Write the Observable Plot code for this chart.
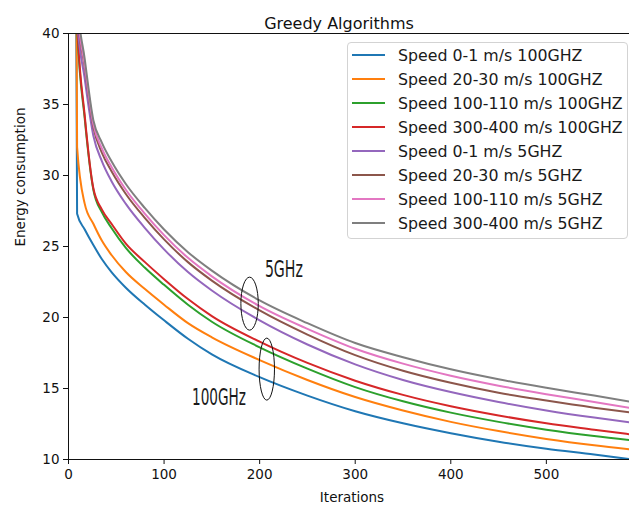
<!DOCTYPE html>
<html><head><meta charset="utf-8">
<script src="https://cdn.jsdelivr.net/npm/d3@7"></script>
<script src="https://cdn.jsdelivr.net/npm/@observablehq/plot@0.6"></script>
<style>
body{margin:0;background:#fff;}
#wrap{position:relative;width:629px;height:510px;font-family:"DejaVu Sans",sans-serif;}
#legend{position:absolute;left:347px;top:42px;width:281px;height:197px;border:1px solid #d3d3d3;border-radius:4px;background:rgba(255,255,255,0.8);box-sizing:border-box;}
.row{height:24px;display:flex;align-items:center;}
.sw{width:33px;height:2px;margin-left:4px;margin-right:13px;flex:none;}
.lab{font-size:15.8px;color:#1a1a1a;white-space:nowrap;font-family:"DejaVu Sans",sans-serif;}
</style></head>
<body><div id="wrap"></div>
<script>
const iterations = [1, 9, 17, 26, 35, 45, 60, 80, 100, 125, 150, 200, 250, 300, 350, 400, 450, 500, 550, 590];
const blue100   = [150, 27.3, 26.2, 25.1, 24.1, 23.2, 22.1, 20.9, 19.8, 18.5, 17.4, 15.8, 14.5, 13.4, 12.55, 11.85, 11.25, 10.75, 10.35, 10.0];
const orange100 = [150, 32.0, 28.0, 26.6, 25.4, 24.4, 23.2, 22.0, 20.9, 19.6, 18.6, 17.0, 15.6, 14.4, 13.45, 12.65, 12.0, 11.45, 11.0, 10.7];
const green100  = [150, 40.6, 34.0, 29.0, 27.4, 26.3, 24.9, 23.5, 22.3, 20.9, 19.7, 17.9, 16.4, 15.1, 14.1, 13.3, 12.65, 12.1, 11.65, 11.35];
const red100    = [150, 41.0, 34.2, 29.1, 27.6, 26.6, 25.2, 23.9, 22.7, 21.3, 20.1, 18.3, 16.8, 15.55, 14.55, 13.75, 13.1, 12.55, 12.1, 11.75];
const purple5   = [150, 41.0, 36.8, 32.8, 31.0, 29.6, 28.0, 26.3, 24.8, 23.2, 21.9, 19.8, 18.1, 16.7, 15.6, 14.75, 14.05, 13.45, 12.95, 12.6];
const brown5    = [150, 41.8, 37.6, 33.4, 31.6, 30.3, 28.7, 27.0, 25.5, 23.9, 22.6, 20.5, 18.8, 17.35, 16.25, 15.4, 14.7, 14.15, 13.65, 13.3];
const pink5     = [150, 42.0, 37.8, 33.6, 31.9, 30.6, 29.0, 27.3, 25.8, 24.2, 22.9, 20.8, 19.2, 17.8, 16.75, 15.9, 15.2, 14.6, 14.05, 13.6];
const gray5     = [150, 42.5, 38.2, 33.9, 32.3, 31.0, 29.4, 27.7, 26.2, 24.6, 23.3, 21.2, 19.6, 18.2, 17.2, 16.35, 15.65, 15.05, 14.5, 14.05];

const seriesNames = [
  "Speed 0-1 m/s 100GHZ", "Speed 20-30 m/s 100GHZ", "Speed 100-110 m/s 100GHZ", "Speed 300-400 m/s 100GHZ",
  "Speed 0-1 m/s 5GHZ", "Speed 20-30 m/s 5GHZ", "Speed 100-110 m/s 5GHZ", "Speed 300-400 m/s 5GHZ"
];
const seriesValues = [blue100, orange100, green100, red100, purple5, brown5, pink5, gray5];
const seriesColors = ["#1f77b4", "#ff7f0e", "#2ca02c", "#d62728", "#9467bd", "#8c564b", "#e377c2", "#7f7f7f"];

const xTicks = [0, 100, 200, 300, 400, 500];
const yTicks = [10, 15, 20, 25, 30, 35, 40];

const titleText = "Greedy Algorithms";
const xLabel = "Iterations";
const yLabel = "Energy consumption";

// annotation ellipses (centre in data units) and labels
const rings = [
  {x: 190, y: 20.94, rx: 8.7, ry: 26.5},
  {x: 208, y: 16.33, rx: 7.7, ry: 31}
];
const notes = [
  {label: "5GHz", x: 206, y: 22.8, len: 38},
  {label: "100GHz", x: 129.7, y: 13.78, len: 54}
];

const rows = seriesNames.flatMap((name, i) =>
  iterations.map((it, j) => ({series: name, it, v: seriesValues[i][j]})));

const annotate = (index, scales, values, dims) => {
  const sx = typeof scales.x === "function" ? scales.x : (v) => scales.x.apply(v);
  const sy = typeof scales.y === "function" ? scales.y : (v) => scales.y.apply(v);
  const g = d3.create("svg:g");
  g.selectAll("ellipse").data(rings).join("ellipse")
    .attr("cx", d => sx(d.x)).attr("cy", d => sy(d.y))
    .attr("rx", d => d.rx).attr("ry", d => d.ry)
    .attr("fill", "none").attr("stroke", "#111").attr("stroke-width", 1);
  g.selectAll("text").data(notes).join("text")
    .attr("x", d => sx(d.x)).attr("y", d => sy(d.y))
    .attr("text-anchor", "start")
    .attr("textLength", d => d.len).attr("lengthAdjust", "spacingAndGlyphs")
    .attr("font-family", "'Liberation Sans Narrow','DejaVu Sans Condensed','DejaVu Sans',sans-serif")
    .attr("font-stretch", "condensed")
    .attr("font-size", 23).attr("fill", "#1a1a1a")
    .text(d => d.label);
  return g.node();
};

const plot = Plot.plot({
  width: 629,
  height: 510,
  marginLeft: 68,
  marginRight: 0,
  marginTop: 33,
  marginBottom: 51,
  style: {fontFamily: "DejaVu Sans, sans-serif", fontSize: "13.5px", color: "#111", background: "#fff"},
  x: {domain: [0, 587]},
  y: {domain: [10, 40]},
  color: {domain: seriesNames, range: seriesColors},
  marks: [
    Plot.lineY(rows, {x: "it", y: "v", z: "series", stroke: "series", strokeWidth: 2, curve: "monotone-x", clip: true}),
    Plot.ruleX([0], {stroke: "#111", strokeWidth: 1}),
    Plot.ruleY([10], {stroke: "#111", strokeWidth: 1}),
    Plot.ruleY([40], {stroke: "#111", strokeWidth: 1}),
    Plot.axisX({ticks: xTicks, tickSize: 5, tickPadding: 5, label: null, stroke: "#111"}),
    Plot.axisY({ticks: yTicks, tickSize: 5, tickPadding: 4, label: null, stroke: "#111"}),
    Plot.text([titleText], {text: d => d, frameAnchor: "top", dy: -16, dx: -10, fontSize: 16, fill: "#111"}),
    Plot.text([xLabel], {text: d => d, frameAnchor: "bottom", dy: 42, dx: 3, fontSize: 13.5, fill: "#111"}),
    Plot.text([yLabel], {text: d => d, frameAnchor: "left", dx: -48, rotate: -90, fontSize: 13.5, fill: "#111"}),
    annotate
  ]
});

const wrap = document.getElementById("wrap");
wrap.appendChild(plot);

const legend = document.createElement("div");
legend.id = "legend";
seriesNames.forEach((name, i) => {
  const row = document.createElement("div");
  row.className = "row";
  const sw = document.createElement("div");
  sw.className = "sw";
  sw.style.background = seriesColors[i];
  const lab = document.createElement("span");
  lab.className = "lab";
  lab.textContent = name;
  row.appendChild(sw);
  row.appendChild(lab);
  legend.appendChild(row);
});
wrap.appendChild(legend);
</script>
</body></html>
